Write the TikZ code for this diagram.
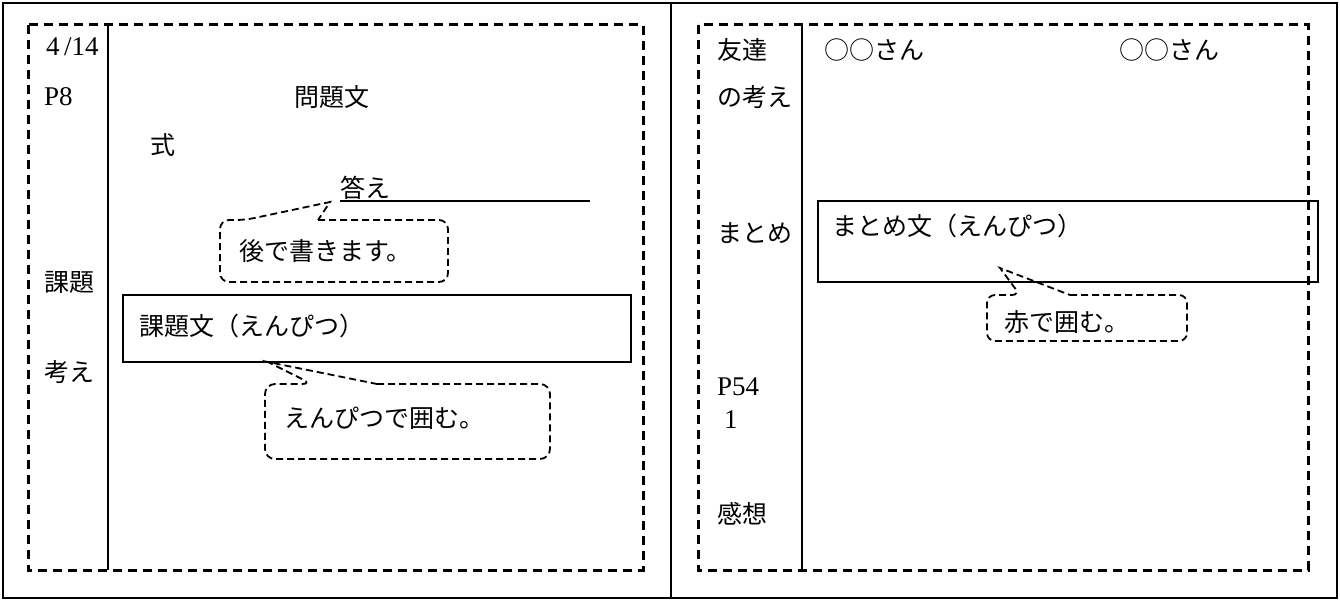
\documentclass[tikz,border=0pt]{standalone}
\usepackage{fontspec}
\setmainfont{Liberation Serif}
\newfontfamily\jp{Noto Sans CJK JP}
\begin{document}
\begin{tikzpicture}[x=1pt,y=-1pt,
  frame/.style={line width=2pt},
  dbox/.style={line width=3pt, dash pattern=on 9pt off 6pt},
  solidline/.style={line width=1.6pt},
  callout/.style={line width=1.8pt, dash pattern=on 7pt off 4pt},
  lab/.style={inner sep=0pt, anchor=west, font=\fontsize{27}{30}\selectfont},
  jlab/.style={inner sep=0pt, anchor=west, font=\jp\fontsize{25}{28}\selectfont}]
\useasboundingbox (0,0) rectangle (1340,601);
% outer table
\draw[frame] (3,3) rectangle (1337,598);
\draw[frame] (671,3) -- (671,598);
% dashed boxes
\draw[dbox] (28,25) rectangle (643,570);
\draw[dbox] (698,25) rectangle (1308,570);
\draw[solidline] (108,25) -- (108,570);
\draw[solidline] (802,25) -- (802,570);
% left texts
\node[lab] (date) at (46,47) {4\,/14};
\node[lab] (p8) at (44,97) {P8};
\node[jlab, anchor=center] (mondai) at (332,97) {問題文};
\node[jlab] (shiki) at (150,145) {式};
\node[jlab] (kotae) at (340,188) {答え};
\coordinate (lineend) at (590,201);
\coordinate (linestart) at (340,201);
\draw[solidline] (linestart) -- (lineend);
\node[jlab] (kadai) at (44,282) {課題};
\node[jlab] (kangae) at (44,372) {考え};
\node[draw, solidline, minimum width=508pt, minimum height=67pt, anchor=north west] (kadaibox) at (122,294) {};
\node[jlab] (kadaitext) at (139,326) {課題文（えんぴつ）};
% callout 1
\draw[callout] (318,220) [rounded corners=9] -- (448,220) -- (448,282) -- (220,282) -- (220,220) -- (245,220) [sharp corners] -- (330,202) -- cycle;
\node[jlab] (ato) at (239,251) {後で書きます。};
% callout 2
\draw[callout] (377,384) [rounded corners=10] -- (550,384) -- (550,459) -- (265,459) -- (265,384) -- (312,384) [sharp corners] -- (268,362) -- cycle;
\node[jlab] (enpitsu) at (284,418) {えんぴつで囲む。};
% right texts
\node[jlab] (tomo) at (717,50) {友達};
\node[jlab] (san1) at (824,50) {○○さん};
\node[jlab] (san2) at (1119,50) {○○さん};
\node[jlab] (nokangae) at (717,97) {の考え};
\node[jlab] (matome) at (717,233) {まとめ};
\node[draw, solidline, minimum width=500pt, minimum height=81pt, anchor=north west] (matomebox) at (817,200) {};
\node[jlab] (matometext) at (832,226) {まとめ文（えんぴつ）};
% callout 3
\draw[callout] (1070,295) [rounded corners=8] -- (1187,295) -- (1187,341) -- (987,341) -- (987,295) -- (1020,295) [sharp corners] -- (1000,268) -- cycle;
\node[jlab] (aka) at (1004,322) {赤で囲む。};
\node[lab] (p54) at (717,387) {P54};
\node[lab] (one) at (724,420) {1};
\node[jlab] (kansou) at (717,514) {感想};
\end{tikzpicture}
\end{document}
